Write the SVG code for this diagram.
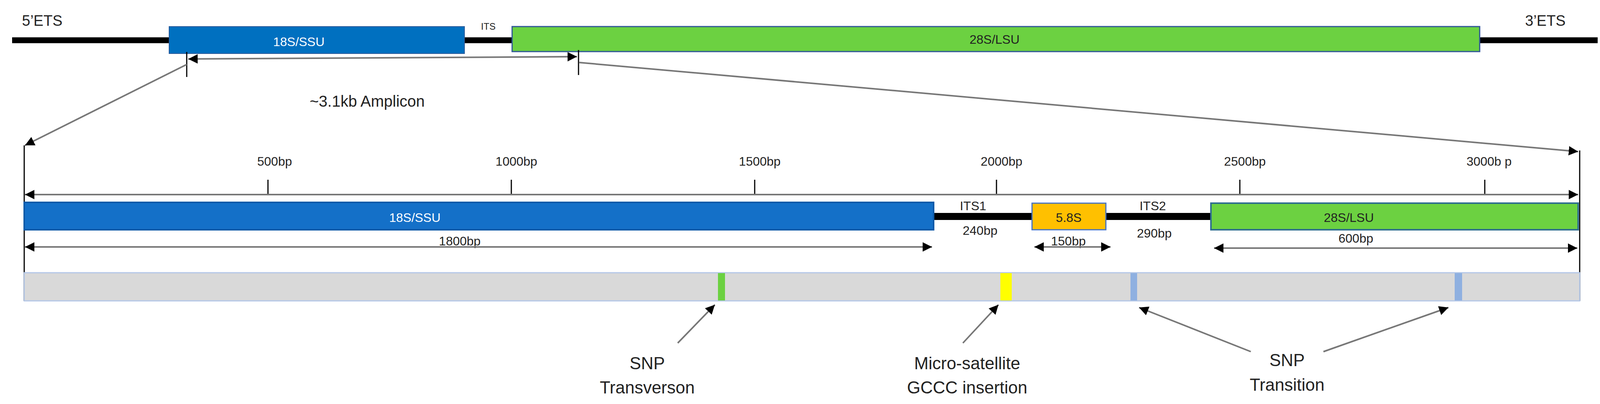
<svg xmlns="http://www.w3.org/2000/svg" width="4117" height="1034" viewBox="0 0 4117 1034">
<style>
text{font-family:"Liberation Sans",Arial,sans-serif;fill:#222}
.t{font-size:32px;text-anchor:middle}
.big{font-size:44px;text-anchor:middle}
.w{fill:#fff}
.ln{stroke:#777;stroke-width:4;fill:none}
.blk{stroke:#000;stroke-width:3;fill:none}
</style>
<defs>
<marker id="ah" viewBox="0 0 10 10" refX="10" refY="5" markerWidth="6" markerHeight="7" orient="auto-start-reverse" markerUnits="strokeWidth"><path d="M0,0L10,5L0,10z" fill="#000"/></marker>
</defs>
<g id="top-gene">
<line x1="31" y1="103" x2="4090" y2="103" stroke="#000" stroke-width="15"/>
<text x="108" y="66" font-size="38" text-anchor="middle">5’ETS</text>
<text x="3956" y="66" font-size="38" text-anchor="middle">3’ETS</text>
<text x="1250" y="76" font-size="24" text-anchor="middle">ITS</text>
</g>
<g id="top-18S"><rect x="433" y="68" width="756" height="69" fill="#0070c0" stroke="#2a5a9a" stroke-width="2"/><text class="t w" x="765" y="118">18S/SSU</text></g>
<g id="top-28S"><rect x="1311" y="68" width="2477" height="64" fill="#6cd141" stroke="#2f5597" stroke-width="3"/><text class="t" x="2546" y="112">28S/LSU</text></g>
<g id="amplicon">
<line x1="478" y1="133" x2="478" y2="197" class="blk"/>
<line x1="1481" y1="128" x2="1481" y2="192" class="blk"/>
<text x="940" y="273" font-size="40" text-anchor="middle">~3.1kb Amplicon</text>
</g>
<g id="zoom-frame">
<line x1="62" y1="372" x2="62" y2="770" class="blk"/>
<line x1="4044" y1="385" x2="4044" y2="770" class="blk"/>
</g>
<g id="scale">
<line x1="686" y1="460" x2="686" y2="498" class="blk"/><text class="t" x="703" y="424">500bp</text>
<line x1="1309" y1="460" x2="1309" y2="498" class="blk"/><text class="t" x="1322" y="424">1000bp</text>
<line x1="1932" y1="460" x2="1932" y2="498" class="blk"/><text class="t" x="1945" y="424">1500bp</text>
<line x1="2551" y1="460" x2="2551" y2="498" class="blk"/><text class="t" x="2564" y="424">2000bp</text>
<line x1="3174" y1="460" x2="3174" y2="498" class="blk"/><text class="t" x="3187" y="424">2500bp</text>
<line x1="3801" y1="460" x2="3801" y2="498" class="blk"/><text class="t" x="3812" y="424">3000b p</text>
</g>
<g id="its-line"><line x1="2390" y1="554" x2="3100" y2="554" stroke="#000" stroke-width="18"/>
<text class="t" x="2491" y="538">ITS1</text><text class="t" x="2509" y="601">240bp</text>
<text class="t" x="2951" y="538">ITS2</text><text class="t" x="2955" y="608">290bp</text></g>
<g id="ssu"><rect x="62" y="518" width="2328" height="70" fill="#1470c8" stroke="#0d5aa8" stroke-width="4"/><text class="t w" x="1062" y="568">18S/SSU</text></g>
<g id="s58"><rect x="2642" y="520" width="189" height="68" fill="#ffc000" stroke="#4472c4" stroke-width="3"/><text class="t" x="2736" y="568">5.8S</text></g>
<g id="lsu"><rect x="3100" y="520" width="940" height="68" fill="#6cd141" stroke="#2f6f8f" stroke-width="4"/><text class="t" x="3453" y="568">28S/LSU</text></g>
<g id="dims">
<text class="t" x="1177" y="628">1800bp</text>
<text class="t" x="2735" y="628">150bp</text>
<text class="t" x="3471" y="621">600bp</text>
</g>
<g id="band">
<rect x="62" y="698" width="3982" height="72" fill="#d9d9d9" stroke="#b4c7e7" stroke-width="3"/>
<rect x="1838" y="699" width="18" height="70" fill="#6cd141"/>
<rect x="2561" y="699" width="29" height="70" fill="#ffff00"/>
<rect x="2894" y="699" width="17" height="70" fill="#8fb0e0"/>
<rect x="3724" y="699" width="19" height="70" fill="#8fb0e0"/>
</g>
<g id="label-transversion"><text class="big" x="1657" y="945">SNP</text><text class="big" x="1657" y="1007">Transverson</text></g>
<g id="label-micro"><text class="big" x="2476" y="945">Micro-satellite</text><text class="big" x="2476" y="1007">GCCC insertion</text></g>
<g id="label-transition"><text class="big" x="3295" y="937">SNP</text><text class="big" x="3295" y="1000">Transition</text></g>
<g id="connectors">
<line x1="482" y1="151" x2="1477" y2="145" class="ln" marker-start="url(#ah)" marker-end="url(#ah)"/>
<line x1="478" y1="165" x2="64" y2="372" class="ln" marker-end="url(#ah)"/>
<line x1="1483" y1="160" x2="4040" y2="388" class="ln" marker-end="url(#ah)"/>
<line x1="64" y1="498" x2="4040" y2="498" class="ln" marker-start="url(#ah)" marker-end="url(#ah)"/>
<line x1="64" y1="632" x2="2386" y2="632" class="ln" marker-start="url(#ah)" marker-end="url(#ah)"/>
<line x1="2648" y1="632" x2="2843" y2="632" class="ln" marker-start="url(#ah)" marker-end="url(#ah)"/>
<line x1="3108" y1="635" x2="4038" y2="635" class="ln" marker-start="url(#ah)" marker-end="url(#ah)"/>
<line x1="1735" y1="878" x2="1830" y2="780" class="ln" marker-end="url(#ah)"/>
<line x1="2465" y1="878" x2="2556" y2="780" class="ln" marker-end="url(#ah)"/>
<line x1="3202" y1="900" x2="2916" y2="787" class="ln" marker-end="url(#ah)"/>
<line x1="3388" y1="900" x2="3708" y2="787" class="ln" marker-end="url(#ah)"/>
</g>
</svg>
